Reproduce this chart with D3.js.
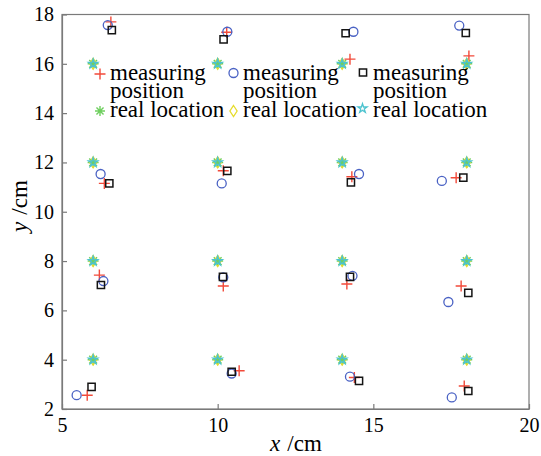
<!DOCTYPE html>
<html>
<head>
<meta charset="utf-8">
<script src="https://cdn.jsdelivr.net/npm/d3@7"></script>
<style>
  @font-face { font-family: "PlotSerif"; src: local("Liberation Serif"), local("LiberationSerif"), local("LiberationSerif-Regular"); font-style: normal; }
  @font-face { font-family: "PlotSerif"; src: local("Liberation Serif Italic"), local("LiberationSerif-Italic"); font-style: italic; }
</style>
</head>
<body style="margin:0">
<svg id="chart" width="541" height="456"></svg>
<script>
// Reference grid (real locations), cm
const realX = [6, 10, 14, 18];
const realY = [4, 8, 12, 16];

// Measured positions, row by row (y = 4, 8, 12, 16), columns x = 6, 10, 14, 18
const plusX = [5.81, 10.69, 14.39, 17.92,  6.20, 10.18, 14.15, 17.82,  6.36, 10.18, 14.31, 17.66,  6.57, 10.29, 14.25, 18.07];
const plusY = [2.56, 3.55, 3.28, 2.93,     7.43, 6.99, 7.07, 6.99,     11.15, 11.66, 11.42, 11.38,  17.70, 17.28, 16.19, 16.32];

const circleX = [5.47, 10.45, 14.25, 17.52,  6.33, 10.18, 14.33, 17.41,  6.24, 10.13, 14.54, 17.20,  6.47, 10.31, 14.36, 17.76];
const circleY = [2.56, 3.44, 3.31, 2.47,     7.19, 7.34, 7.40, 6.34,     11.53, 11.15, 11.53, 11.25,  17.57, 17.30, 17.30, 17.55];

const squareX = [5.95, 10.45, 14.54, 18.05,  6.25, 10.17, 14.25, 18.05,  6.52, 10.31, 14.28, 17.89,  6.60, 10.19, 14.11, 17.97];
const squareY = [2.90, 3.51, 3.14, 2.73,     7.03, 7.36, 7.36, 6.71,     11.15, 11.66, 11.19, 11.38,  17.37, 16.99, 17.24, 17.25];

const xTicks = [5, 10, 15, 20];
const yTicks = [2, 4, 6, 8, 10, 12, 14, 16, 18];

const legendLabels = ["measuring", "position", "real location"];

const FONT = '"Liberation Serif", "PlotSerif", "Tinos", "Times New Roman", "Noto Serif CJK SC"';

// ---- layout ----
const svg = d3.select("#chart");
const x = d3.scaleLinear().domain([5, 20]).range([62, 529]);
const y = d3.scaleLinear().domain([2, 18]).range([409, 14.5]);

const colors = {
  plus: "#f24a3a",
  circle: "#4a62c4",
  square: "#141414",
  asterisk: "#6fcf5f",
  diamond: "#e6dc2c",
  star: "#4cc3cf",
  axis: "#7a7a7a"
};

// serif text at (tx, ty)
function label(parent, tx, ty, size, str) {
  const t = parent.append("text").attr("x", tx).attr("y", ty).attr("font-size", size);
  t.attr("font-family", FONT).style("font-family", FONT);
  return t.text(str);
}

// ---- marker paths ----
const plusPath = r => `M${-r},0H${r}M0,${-r}V${r}`;
const asteriskPath = r => {
  const d = r * Math.SQRT1_2;
  return `M${-r},0H${r}M0,${-r}V${r}M${-d},${-d}L${d},${d}M${-d},${d}L${d},${-d}`;
};
const diamondPath = (w, h) => `M0,${-h}L${w},0L0,${h}L${-w},0Z`;
const starPath = d3.symbol(d3.symbolStar, 26)();
const circlePath = d3.symbol(d3.symbolCircle, 64)();
const squarePath = `M-3.6,-3.6h7.2v7.2h-7.2Z`;

// ---- axes frame ----
svg.append("rect")
  .attr("x", x(5)).attr("y", y(18))
  .attr("width", x(20) - x(5)).attr("height", y(2) - y(18))
  .attr("fill", "none").attr("stroke", colors.axis).attr("stroke-width", 1.2);

const xAxis = d3.axisBottom(x).tickValues(xTicks).tickSizeInner(-5).tickSizeOuter(0).tickPadding(9);
const yAxis = d3.axisLeft(y).tickValues(yTicks).tickSizeInner(-5).tickSizeOuter(0).tickPadding(8);

const gx = svg.append("g").attr("transform", `translate(0,${y(2)})`).call(xAxis);
const gy = svg.append("g").attr("transform", `translate(${x(5)},0)`).call(yAxis);
[gx, gy].forEach(g => {
  g.attr("font-family", FONT).attr("font-size", 20);
  g.select(".domain").attr("stroke", colors.axis).attr("stroke-width", 1.2);
  g.selectAll(".tick line").attr("stroke", colors.axis).attr("stroke-width", 1.2);
  g.selectAll(".tick text").attr("font-family", FONT).style("font-family", FONT).attr("font-size", 20);
});

// axis titles: italic variable letter followed by the unit
const xTitle = svg.append("g").attr("transform", "translate(270,451)");
label(xTitle, 0, 0, 23, "x").attr("font-style", "italic");
label(xTitle, 17.3, 0, 23, "/cm");

const yTitle = svg.append("g").attr("transform", "translate(27,232) rotate(-90)");
label(yTitle, 0, 0, 23, "y").attr("font-style", "italic");
label(yTitle, 17.3, 0, 23, "/cm");

// ---- data marks ----
const plot = svg.append("g");
const real = d3.cross(realY, realX, (ry, rx) => ({ x: rx, y: ry }));
const toPts = (xs, ys) => xs.map((v, i) => ({ x: v, y: ys[i] }));

function drawMarks(data, path, stroke, width) {
  plot.append("g").selectAll("path").data(data).join("path")
    .attr("transform", d => `translate(${x(d.x)},${y(d.y)})`)
    .attr("d", path)
    .attr("fill", "none")
    .attr("stroke", stroke)
    .attr("stroke-width", width);
}

drawMarks(real, asteriskPath(5.5), colors.asterisk, 1.4);
drawMarks(toPts(plusX, plusY), plusPath(5.5), colors.plus, 1.4);
drawMarks(real, diamondPath(3.6, 5.5), colors.diamond, 1.3);
drawMarks(toPts(circleX, circleY), circlePath, colors.circle, 1.3);
drawMarks(real, starPath, colors.star, 1.4);
drawMarks(toPts(squareX, squareY), squarePath, colors.square, 1.5);

// ---- legends (three blocks, one per measurement method) ----
const legends = [
  { mx: 100, my: 74, m: plusPath(5.5), mc: colors.plus, mw: 1.4,
    rx: 100, ry: 111, r: asteriskPath(5), rc: colors.asterisk, rw: 1.4, tx: 110 },
  { mx: 233.5, my: 73, m: circlePath, mc: colors.circle, mw: 1.3,
    rx: 233.5, ry: 111, r: diamondPath(3.6, 5.5), rc: colors.diamond, rw: 1.3, tx: 243 },
  { mx: 363, my: 72.5, m: squarePath, mc: colors.square, mw: 1.5,
    rx: 362.5, ry: 108.5, r: starPath, rc: colors.star, rw: 1.3, tx: 373 }
];

const lg = svg.append("g");
legends.forEach(L => {
  const g = lg.append("g");
  g.append("path").attr("transform", `translate(${L.mx},${L.my})`).attr("d", L.m)
    .attr("fill", "none").attr("stroke", L.mc).attr("stroke-width", L.mw);
  g.append("path").attr("transform", `translate(${L.rx},${L.ry})`).attr("d", L.r)
    .attr("fill", "none").attr("stroke", L.rc).attr("stroke-width", L.rw);
  label(g, L.tx, 80, 23, legendLabels[0]);
  label(g, L.tx, 97.5, 23, legendLabels[1]);
  label(g, L.tx, 117, 23, legendLabels[2]);
});
</script>
</body>
</html>
